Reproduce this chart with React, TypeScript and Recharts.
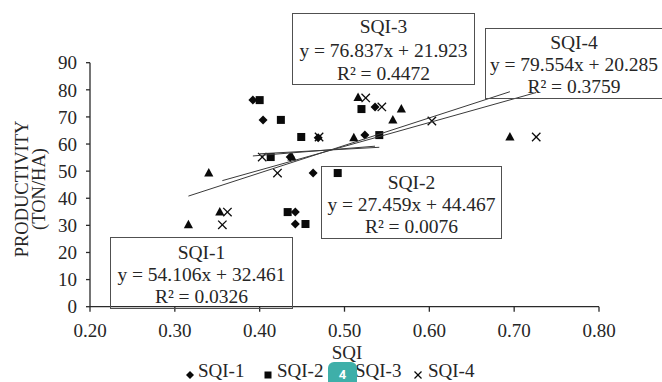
import React from 'react';
import { ScatterChart, Scatter, XAxis, YAxis } from 'recharts';

// ---------- data ----------
const xTicks = [0.2, 0.3, 0.4, 0.5, 0.6, 0.7, 0.8];
const yTicks = [0, 10, 20, 30, 40, 50, 60, 70, 80, 90];

const sqi1X = [0.392, 0.404, 0.436, 0.469, 0.524, 0.536, 0.463, 0.442, 0.442];
const sqi1Y = [76.2, 68.9, 55.2, 62.3, 63.3, 73.7, 49.3, 34.9, 30.5];

const sqi2X = [0.4, 0.425, 0.413, 0.449, 0.52, 0.541, 0.492, 0.433, 0.454];
const sqi2Y = [76.2, 68.9, 55.2, 62.6, 72.9, 63.3, 49.3, 34.9, 30.5];

const sqi3X = [0.516, 0.567, 0.557, 0.511, 0.34, 0.695, 0.316, 0.353, 0.438];
const sqi3Y = [77.2, 72.9, 68.9, 62.3, 49.3, 62.6, 30.2, 34.9, 55.2];

const sqi4X = [0.525, 0.544, 0.403, 0.421, 0.47, 0.603, 0.726, 0.362, 0.356];
const sqi4Y = [77.0, 73.7, 55.2, 49.3, 62.6, 68.5, 62.6, 34.9, 30.2];

// trend line end points
const trend1X = [0.392, 0.536];
const trend1Y = [55.6, 59.2];
const trend2X = [0.4, 0.541];
const trend2Y = [56.4, 58.8];
const trend3X = [0.316, 0.695];
const trend3Y = [40.8, 79.3];
const trend4X = [0.356, 0.726];
const trend4Y = [46.5, 79.0];

const seriesNames = ['SQI-1', 'SQI-2', 'SQI-3', 'SQI-4'];
const boxEquations = ['y = 54.106x + 32.461', 'y = 27.459x + 44.467', 'y = 76.837x + 21.923', 'y = 79.554x + 20.285'];
const boxR2 = ['R\u00B2 = 0.0326', 'R\u00B2 = 0.0076', 'R\u00B2 = 0.4472', 'R\u00B2 = 0.3759'];

const toPoints = (xs: number[], ys: number[]) => xs.map((x, i) => ({ x, y: ys[i] }));

// ---------- styles ----------
const FONT = '"Liberation Serif", "Times New Roman", serif';
const TEXT = '#262626';
const AXIS = '#2a2a2a';
const MARK = '#0a0a0a';
const TREND = '#3a3a3a';

const Diamond = (p: any) => {
  const { cx, cy } = p;
  const r = 4.5;
  return <path d={`M${cx},${cy - r}L${cx + r},${cy}L${cx},${cy + r}L${cx - r},${cy}Z`} fill={MARK} />;
};
const Square = (p: any) => {
  const { cx, cy } = p;
  return <rect x={cx - 4} y={cy - 4} width={8} height={8} fill={MARK} />;
};
const Triangle = (p: any) => {
  const { cx, cy } = p;
  return <path d={`M${cx},${cy - 5}L${cx + 4.6},${cy + 3.5}L${cx - 4.6},${cy + 3.5}Z`} fill={MARK} />;
};
const Cross = (p: any) => {
  const { cx, cy } = p;
  const r = 4.2;
  return (
    <g stroke={MARK} strokeWidth={1.3}>
      <line x1={cx - r} y1={cy - r} x2={cx + r} y2={cy + r} />
      <line x1={cx - r} y1={cy + r} x2={cx + r} y2={cy - r} />
    </g>
  );
};
const NoShape = () => <g />;

const boxLayouts = [
  { left: 110, top: 237, width: 183, height: 72, pad: 4, lh: 22 },
  { left: 321, top: 166, width: 181, height: 73, pad: 5, lh: 22 },
  { left: 292, top: 13, width: 183, height: 72, pad: 1, lh: 23.5 },
  { left: 485, top: 28, width: 178, height: 71, pad: 3, lh: 22 },
];

const legendIcons = [
  (
    <svg width={10} height={10} key="d">
      <path d="M5,1L9,5L5,9L1,5Z" fill={MARK} />
    </svg>
  ),
  (
    <svg width={10} height={10} key="s">
      <rect x={1.5} y={1.5} width={7} height={7} fill={MARK} />
    </svg>
  ),
  (
    <svg width={10} height={10} key="t">
      <path d="M5,1L9.2,8.5L0.8,8.5Z" fill={MARK} />
    </svg>
  ),
  (
    <svg width={10} height={10} key="x">
      <g stroke={MARK} strokeWidth={1.2}>
        <line x1={1.5} y1={1.5} x2={8.5} y2={8.5} />
        <line x1={1.5} y1={8.5} x2={8.5} y2={1.5} />
      </g>
    </svg>
  ),
];
const legendIconX = [185, 263, 342, 413];
const legendTextX = [198, 277, 355, 428];

export default function App() {
  const tickStyle = { fill: TEXT, fontSize: 19, fontFamily: FONT };
  return (
    <div
      style={{
        position: 'fixed',
        left: 0,
        top: 0,
        width: 662,
        height: 382,
        overflow: 'hidden',
        background: '#fff',
        fontFamily: FONT,
        color: TEXT,
      }}
    >
      <div style={{ position: 'absolute', left: 0, top: 0 }}>
        <ScatterChart width={662} height={382} margin={{ top: 62.7, right: 63, bottom: 35.3, left: 0 }}>
          <XAxis
            type="number"
            dataKey="x"
            domain={[0.2, 0.8]}
            ticks={xTicks}
            interval={0}
            tickFormatter={(v: number) => v.toFixed(2)}
            height={40}
            tickSize={5}
            tickMargin={12}
            tick={tickStyle}
            axisLine={{ stroke: AXIS, strokeWidth: 1.3 }}
            tickLine={{ stroke: AXIS, strokeWidth: 1.3 }}
          />
          <YAxis
            type="number"
            dataKey="y"
            domain={[0, 90]}
            ticks={yTicks}
            interval={0}
            width={90}
            tickSize={4}
            tickMargin={9}
            tick={tickStyle}
            axisLine={{ stroke: AXIS, strokeWidth: 1.3 }}
            tickLine={{ stroke: AXIS, strokeWidth: 1.3 }}
          />
          <Scatter name={seriesNames[0]} data={toPoints(sqi1X, sqi1Y)} shape={Diamond} isAnimationActive={false} />
          <Scatter name={seriesNames[1]} data={toPoints(sqi2X, sqi2Y)} shape={Square} isAnimationActive={false} />
          <Scatter name={seriesNames[2]} data={toPoints(sqi3X, sqi3Y)} shape={Triangle} isAnimationActive={false} />
          <Scatter name={seriesNames[3]} data={toPoints(sqi4X, sqi4Y)} shape={Cross} isAnimationActive={false} />
          <Scatter data={toPoints(trend1X, trend1Y)} line={{ stroke: TREND, strokeWidth: 1 }} shape={NoShape} isAnimationActive={false} />
          <Scatter data={toPoints(trend2X, trend2Y)} line={{ stroke: TREND, strokeWidth: 1 }} shape={NoShape} isAnimationActive={false} />
          <Scatter data={toPoints(trend3X, trend3Y)} line={{ stroke: TREND, strokeWidth: 1 }} shape={NoShape} isAnimationActive={false} />
          <Scatter data={toPoints(trend4X, trend4Y)} line={{ stroke: TREND, strokeWidth: 1 }} shape={NoShape} isAnimationActive={false} />
        </ScatterChart>
      </div>

      {/* equation boxes */}
      {boxLayouts.map((b, i) => (
        <div
          key={i}
          style={{
            position: 'absolute',
            left: b.left,
            top: b.top,
            width: b.width,
            height: b.height,
            boxSizing: 'border-box',
            border: '1.5px solid #505050',
            paddingTop: b.pad,
            textAlign: 'center',
            fontSize: 19.5,
            lineHeight: `${b.lh}px`,
            whiteSpace: 'nowrap',
          }}
        >
          <div>{seriesNames[i]}</div>
          <div>{boxEquations[i]}</div>
          <div>{boxR2[i]}</div>
        </div>
      ))}

      {/* y axis title */}
      <div
        style={{
          position: 'absolute',
          left: 31 - 100,
          top: 189 - 20,
          width: 200,
          height: 40,
          transform: 'rotate(-90deg)',
          textAlign: 'center',
          fontSize: 18.5,
          lineHeight: '17px',
          paddingTop: 3,
          boxSizing: 'border-box',
        }}
      >
        <div>PRODUCTIVITY</div>
        <div>(TON/HA)</div>
      </div>

      {/* x axis title */}
      <div
        style={{
          position: 'absolute',
          left: 297,
          top: 342,
          width: 100,
          textAlign: 'center',
          fontSize: 19,
          lineHeight: '22px',
        }}
      >
        SQI
      </div>

      {/* legend */}
      {seriesNames.map((n, i) => (
        <React.Fragment key={n}>
          <div style={{ position: 'absolute', left: legendIconX[i], top: 366, width: 10, height: 10 }}>{legendIcons[i]}</div>
          <div style={{ position: 'absolute', left: legendTextX[i], top: 360, fontSize: 19, lineHeight: '22px' }}>{n}</div>
        </React.Fragment>
      ))}

      {/* page badge */}
      <div
        style={{
          position: 'absolute',
          left: 328,
          top: 362,
          width: 29,
          height: 28,
          borderRadius: 6,
          background: '#3eafa9',
          color: '#fff',
          fontFamily: 'Roboto, sans-serif',
          fontSize: 13,
          fontWeight: 700,
          textAlign: 'center',
          lineHeight: '13px',
          paddingTop: 6,
          boxSizing: 'border-box',
        }}
      >
        4
      </div>
    </div>
  );
}
